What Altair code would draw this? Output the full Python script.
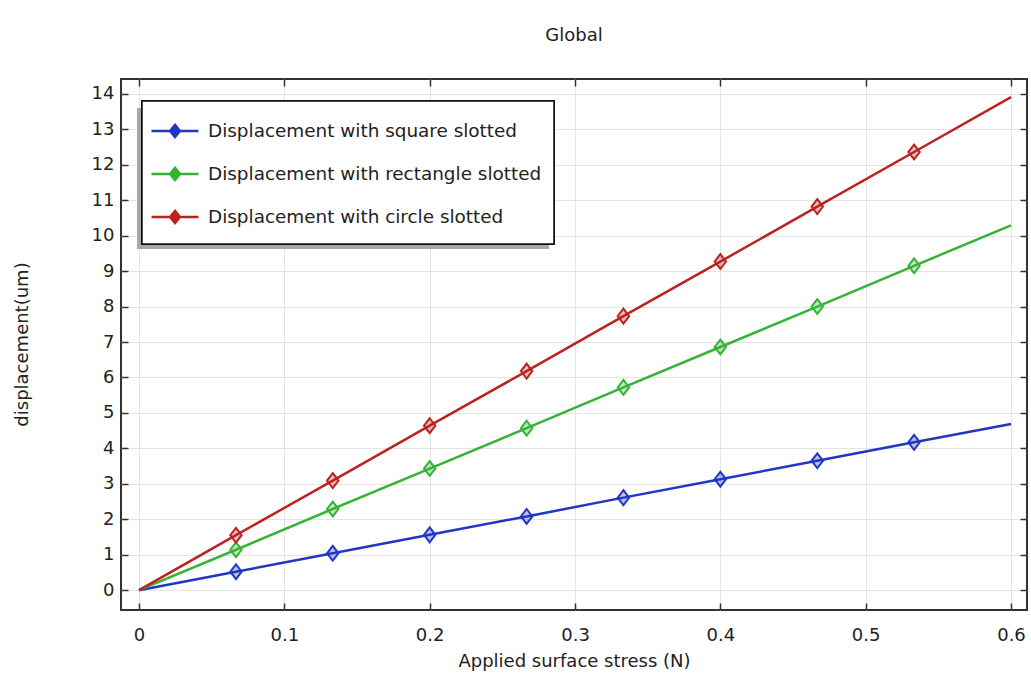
import altair as alt
import pandas as pd

stress = [0, 0.0667, 0.1333, 0.2, 0.2667, 0.3333, 0.4, 0.4667, 0.5333, 0.6]
square = [0, 0.52, 1.04, 1.56, 2.08, 2.61, 3.13, 3.65, 4.17, 4.69]
rectangle = [0, 1.14, 2.29, 3.43, 4.57, 5.72, 6.86, 8.00, 9.15, 10.29]
circle = [0, 1.55, 3.09, 4.64, 6.18, 7.73, 9.27, 10.82, 12.36, 13.91]
series_names = ["Displacement with square slotted",
                "Displacement with rectangle slotted",
                "Displacement with circle slotted"]
series_colors = ["#2236c4", "#35b335", "#bb2220"]

rows = []
for name, vals in zip(series_names, [square, rectangle, circle]):
    for i, (s, v) in enumerate(zip(stress, vals)):
        rows.append({"stress": s, "disp": v, "series": name,
                     "marker": 0 < i < len(stress) - 1})
df = pd.DataFrame(rows)

FONT = "DejaVu Sans"
FS = 18
xscale = alt.Scale(domain=[-0.0124, 0.611], nice=False, zero=False)
yscale = alt.Scale(domain=[-0.56, 14.42], nice=False, zero=False)
cscale = alt.Scale(domain=series_names, range=series_colors)
color = alt.Color("series:N", scale=cscale,
                  legend=alt.Legend(
                      title=None, orient="none", legendX=20, legendY=18,
                      symbolType="M-1,0H1M0,-0.26L0.21,0L0,0.26L-0.21,0Z",
                      symbolSize=2209, symbolStrokeWidth=2.5,
                      symbolFillColor="white",
                      labelFont=FONT, labelFontSize=18.4, labelColor="#222",
                      labelLimit=500, labelOffset=8,
                      rowPadding=6, padding=9))

xaxis = alt.Axis(values=[0, 0.1, 0.2, 0.3, 0.4, 0.5, 0.6], format="~g",
                 title="Applied surface stress (N)", titleFont=FONT,
                 titleFontSize=FS, titleFontWeight="normal", titleColor="#222",
                 titlePadding=8,
                 labelFont=FONT, labelFontSize=FS, labelColor="#222",
                 tickSize=7, offset=-7, domain=False, tickColor="#333",
                 tickWidth=1.5, labelPadding=16, grid=True, gridColor="#e4e4e4")
yaxis = alt.Axis(values=list(range(0, 15)),
                 title="displacement(um)", titleFont=FONT,
                 titleFontSize=FS, titleFontWeight="normal", titleColor="#222",
                 titleX=-106, titleY=265, titleAngle=-90, titleBaseline="middle",
                 titleAlign="center",
                 labelFont=FONT, labelFontSize=FS, labelColor="#222",
                 tickSize=7, offset=-7, domain=False, tickColor="#333",
                 tickWidth=1.5, labelPadding=7, grid=True, gridColor="#e4e4e4")
xaxis_top = alt.Axis(orient="top", values=[0, 0.1, 0.2, 0.3, 0.4, 0.5, 0.6],
                     labels=False, title=None, tickSize=7, offset=-7,
                     domain=False, tickColor="#333", tickWidth=1.5, grid=False)
yaxis_right = alt.Axis(orient="right", values=list(range(0, 15)),
                       labels=False, title=None, tickSize=7, offset=-7,
                       domain=False, tickColor="#333", tickWidth=1.5, grid=False)

base = alt.Chart(df)

shadow = base.mark_rect(color="#a8a8a8").encode(
    x=alt.value(16), x2=alt.value(428), y=alt.value(29), y2=alt.value(170))
box = base.mark_rect(fill="white", stroke="#111", strokeWidth=1.5).encode(
    x=alt.value(21), x2=alt.value(433), y=alt.value(22), y2=alt.value(165))

lines = base.mark_line(strokeWidth=2.5).encode(
    x=alt.X("stress:Q", scale=xscale, axis=xaxis),
    y=alt.Y("disp:Q", scale=yscale, axis=yaxis),
    color=color)

points = base.transform_filter("datum.marker").mark_point(
    shape="M0,-1.3L1,0L0,1.3L-1,0Z", size=130, filled=True,
    strokeWidth=2, fillOpacity=0.3
).encode(
    x=alt.X("stress:Q", scale=xscale, axis=xaxis_top),
    y=alt.Y("disp:Q", scale=yscale, axis=yaxis_right),
    color=alt.Color("series:N", scale=cscale, legend=None),
    stroke=alt.Stroke("series:N", scale=cscale, legend=None))

chart = alt.layer(lines, points, shadow, box).resolve_axis(
    x="independent", y="independent"
).properties(
    width=906, height=531,
    autosize=alt.AutoSizeParams(type="none"),
    padding={"left": 121, "top": 79, "right": 4, "bottom": 69},
    title=alt.Title("Global", font=FONT, fontSize=FS, fontWeight="normal",
                    color="#222", anchor="middle", offset=33),
    background="white"
).configure_view(stroke="#333", strokeWidth=2)

chart.save("out.html", embed_options={"renderer": "svg", "actions": False})
